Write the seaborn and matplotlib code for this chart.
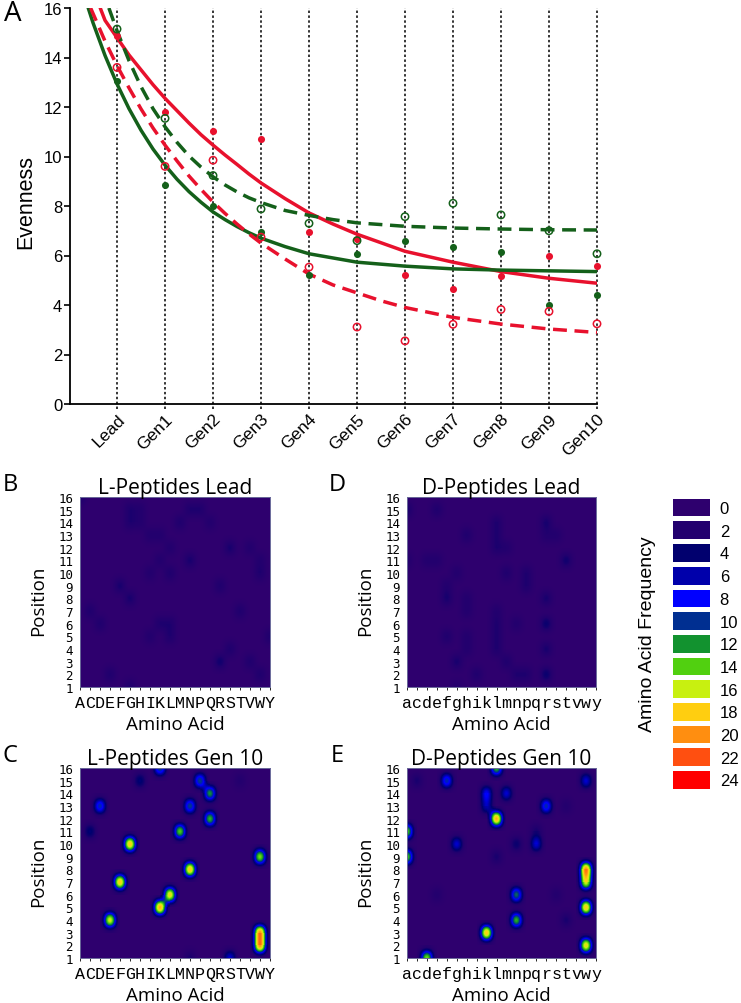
import numpy as np
import pandas as pd
import seaborn as sns
import matplotlib.pyplot as plt
from matplotlib.colors import LinearSegmentedColormap

# panel A - measured points, one value per library
generations = ['Lead', 'Gen1', 'Gen2', 'Gen3', 'Gen4', 'Gen5', 'Gen6', 'Gen7', 'Gen8', 'Gen9', 'Gen10']
red_filled = [14.88, 11.78, 11.03, 10.72, 6.95, 6.68, 5.20, 4.65, 5.19, 5.97, 5.57]
red_open = [13.60, 9.60, 9.85, 6.74, 5.53, 3.11, 2.55, 3.22, 3.82, 3.74, 3.24]
green_filled = [13.05, 8.86, 8.01, 6.95, 5.23, 6.05, 6.59, 6.36, 6.14, 4.00, 4.42]
green_open = [15.15, 11.54, 9.23, 7.88, 7.30, 6.60, 7.57, 8.11, 7.64, 7.00, 6.07]

# panel A - fitted curves
red_solid_x = [-0.35, -0.25, 0, 0.25, 0.5, 0.75, 1, 1.25, 1.5, 1.75, 2, 2.25, 2.5, 2.75, 3, 3.5, 4, 4.5, 5, 6, 7, 8, 9, 10]
red_solid_y = [16.0, 15.5, 14.8, 14.1, 13.5, 12.9, 12.35, 11.85, 11.35, 10.88, 10.46, 10.06, 9.68, 9.29, 8.93, 8.30, 7.72, 7.27, 6.86, 6.17, 5.73, 5.35, 5.08, 4.88]
green_solid_x = [-0.6, -0.5, -0.25, 0, 0.25, 0.5, 0.75, 1, 1.25, 1.5, 1.75, 2, 2.25, 2.5, 2.75, 3, 3.25, 3.5, 4, 4.5, 5, 6, 7, 8, 9, 10]
green_solid_y = [16.0, 15.4, 14.08, 12.93, 11.93, 11.06, 10.3, 9.65, 9.08, 8.58, 8.15, 7.76, 7.45, 7.17, 6.92, 6.70, 6.53, 6.36, 6.07, 5.9, 5.73, 5.57, 5.46, 5.41, 5.38, 5.35]
red_dash_x = [-0.55, -0.25, 0, 0.25, 0.5, 0.75, 1, 1.25, 1.5, 1.75, 2, 2.25, 2.5, 2.75, 3, 3.5, 4, 4.5, 5, 5.5, 6, 7, 8, 9, 10]
red_dash_y = [16.0, 14.66, 13.67, 12.77, 11.92, 11.15, 10.46, 9.82, 9.21, 8.67, 8.16, 7.70, 7.27, 6.87, 6.50, 5.86, 5.25, 4.81, 4.49, 4.17, 3.90, 3.50, 3.23, 3.03, 2.89]
green_dash_x = [-0.17, 0, 0.25, 0.5, 0.75, 1, 1.25, 1.5, 1.75, 2, 2.25, 2.5, 2.75, 3, 3.5, 4, 4.5, 5, 6, 7, 8, 9, 10]
green_dash_y = [16.0, 15.08, 13.87, 12.82, 11.93, 11.2, 10.57, 10.02, 9.57, 9.18, 8.85, 8.57, 8.33, 8.14, 7.82, 7.62, 7.45, 7.32, 7.18, 7.11, 7.07, 7.04, 7.03]

# heatmaps - (column, position, frequency), everything else sits at the background level
l_letters = list('ACDEFGHIKLMNPQRSTVWY')
d_letters = list('acdefghiklmnpqrstvwy')
positions = list(range(1, 17))

l_lead_cells = [(0, 16, 3), (5, 15, 2.5), (6, 15, 2), (5, 14, 2.5), (6, 14, 2), (7, 13, 2), (8, 13, 2), (9, 12, 2),
                (10, 14, 2.5), (11, 15, 2.5), (12, 15, 2.5), (13, 14, 2), (8, 11, 2), (11, 11, 3), (9, 10, 2.5), (7, 10, 2),
                (4, 9, 3), (5, 8, 3), (14, 9, 2.5), (15, 12, 3), (17, 12, 2), (18, 11, 2), (18, 10, 2.5), (16, 7, 2.5),
                (1, 7, 2.5), (2, 6, 2.5), (8, 6, 2.5), (9, 6, 2.5), (7, 5, 2), (9, 5, 2.5), (14, 3, 3.5), (15, 4, 2.5),
                (17, 3, 2.5), (18, 2, 2.5), (19, 5, 2.5), (3, 2, 2.5), (5, 1, 2.5)]
d_lead_cells = [(0, 15, 3), (3, 15, 2.5), (0, 11, 2), (2, 11, 2), (3, 11, 2), (6, 13, 2.5), (9, 14, 2.5), (9, 13, 2.5),
                (9, 12, 2.5), (10, 12, 2), (14, 14, 3), (15, 13, 2), (14, 13, 2), (16, 11, 3.5), (10, 10, 2.5), (12, 10, 2.5),
                (12, 9, 2.5), (5, 10, 2), (4, 8, 3), (4, 9, 2), (6, 8, 2), (6, 7, 2), (14, 8, 3), (14, 6, 4),
                (14, 4, 3), (14, 2, 4), (9, 7, 2), (9, 6, 2.5), (9, 5, 2.5), (9, 4, 2.5), (11, 6, 2), (4, 5, 2.5),
                (6, 5, 2), (6, 4, 2), (5, 3, 3), (7, 2, 2.5), (10, 3, 2.5), (11, 2, 2.5), (12, 2, 2.5), (5, 1, 1.5)]
l_gen10_cells = [(2, 13, 11), (1, 11, 5), (6, 15, 5), (8, 16, 12), (12, 15, 12), (13, 14, 14), (13, 12, 15), (11, 13, 12),
                 (10, 11, 16), (5, 10, 21), (18, 9, 17), (11, 8, 21), (4, 7, 21), (9, 6, 20), (8, 5, 22), (3, 4, 19),
                 (18, 3, 23), (18, 2, 23), (15, 1, 8), (16, 15, 2), (11, 1, 3)]
d_gen10_cells = [(9, 16, 15), (9, 12, 22), (4, 15, 11), (1, 15, 3), (8, 14, 9), (8, 13, 7), (10, 14, 8), (14, 13, 11),
                 (18, 15, 8), (0, 11, 16), (0, 9, 16), (5, 10, 8), (11, 10, 4), (11, 6, 13), (11, 4, 15), (13, 10, 8),
                 (13, 11, 3), (9, 9, 3), (18, 8, 23), (18, 7, 19), (18, 5, 21), (18, 2, 20), (8, 3, 21), (2, 1, 17),
                 (3, 6, 2), (15, 6, 2), (16, 4, 3), (16, 13, 2)]

legend_levels = list(range(0, 25, 2))
legend_colors = ['#2e006e', '#22006e', '#00006e', '#0000aa', '#0000ff', '#003090', '#109030',
                 '#50d010', '#c8f010', '#ffd010', '#ff9010', '#ff5010', '#ff0000']

RED = '#e8112d'
GREEN = '#14601a'
W, H = 741, 1004

sns.set_theme(style='white')
plt.rcParams['font.family'] = ['Liberation Sans', 'DejaVu Sans']
plt.rcParams['axes.edgecolor'] = 'black'
plt.rcParams['text.color'] = 'black'
plt.rcParams['axes.labelcolor'] = 'black'
plt.rcParams['xtick.color'] = 'black'
plt.rcParams['ytick.color'] = 'black'

freq_cmap = LinearSegmentedColormap.from_list('freq', legend_colors, N=256)


def px_axes(fig, left, top, right, bottom):
    return fig.add_axes([left / W, 1 - bottom / H, (right - left) / W, (bottom - top) / H])


def build_grid(cells):
    grid = np.zeros((len(positions), len(l_letters)))
    for col, pos, val in cells:
        grid[pos - 1, col] = val
    return grid


def draw_map(fig, box, cells, letters, title, tag, tag_x):
    ax = px_axes(fig, *box)
    # hamming keeps the cell peak and gives the soft, slightly boxy spots of the original
    ax.imshow(build_grid(cells), cmap=freq_cmap, vmin=0, vmax=24, origin='lower', aspect='auto',
              interpolation='hamming', extent=(-0.5, 19.5, 0.5, 16.5))
    ax.set_xlim(0, 19)
    ax.set_ylim(1, 16)
    ax.set_xticks(range(20))
    ax.set_xticklabels(letters, family='Liberation Mono', fontsize=12)
    ax.set_yticks(positions)
    ax.set_yticklabels(positions, family='DejaVu Sans Mono', fontsize=9)
    ax.tick_params(axis='x', length=2.5, width=0.6, pad=3, bottom=True)
    ax.tick_params(axis='y', length=0, pad=5)
    for s in ax.spines.values():
        s.set_color('#6a6a9a')
        s.set_linewidth(0.7)
    ax.set_xlabel('Amino Acid', family='Open Sans', fontsize=13.5, labelpad=4)
    ax.set_ylabel('Position', family='Open Sans', fontsize=13.5)
    ax.yaxis.set_label_coords(-0.175, 0.458)
    ax.set_title(title, family='Open Sans', fontsize=15, pad=3)
    fig.text(tag_x / W, 1 - (box[1] - 13) / H, tag, family='Open Sans', fontsize=17, va='center')
    return ax


fig = plt.figure(figsize=(W / 100, H / 100), dpi=100)

# panel A
ax = px_axes(fig, 70, 9, 597, 405)
for i in range(len(generations)):
    ax.plot([i, i], [-0.22, 16], color='black', lw=1.1, ls=(0, (1.6, 1.6)), zorder=1, clip_on=False)

sns.lineplot(x=red_solid_x, y=red_solid_y, color=RED, lw=2.5, ax=ax, zorder=3)
sns.lineplot(x=green_solid_x, y=green_solid_y, color=GREEN, lw=2.5, ax=ax, zorder=3)
sns.lineplot(x=red_dash_x, y=red_dash_y, color=RED, lw=2.5, ax=ax, zorder=3, linestyle=(0, (4.0, 2.2)))
sns.lineplot(x=green_dash_x, y=green_dash_y, color=GREEN, lw=2.5, ax=ax, zorder=3, linestyle=(0, (4.0, 2.2)))

idx = np.arange(len(generations))
sns.scatterplot(x=idx, y=green_filled, color=GREEN, s=26, linewidth=0, ax=ax, zorder=4, clip_on=False)
sns.scatterplot(x=idx, y=red_filled, color=RED, s=26, linewidth=0, ax=ax, zorder=4, clip_on=False)
sns.scatterplot(x=idx, y=green_open, facecolors='none', edgecolor=GREEN, s=28, linewidth=1.1, ax=ax, zorder=4, clip_on=False)
sns.scatterplot(x=idx, y=red_open, facecolors='none', edgecolor=RED, s=28, linewidth=1.1, ax=ax, zorder=4, clip_on=False)

ax.set_xlim(-0.98, 10)
ax.set_ylim(0, 16)
ax.set_xticks(idx)
ax.set_xticklabels(generations, rotation=45, ha='right', rotation_mode='anchor', fontsize=12.5)
ax.set_yticks(range(0, 17, 2))
ax.tick_params(axis='y', length=4.5, width=1.2, labelsize=12, pad=1, left=True)
ax.tick_params(axis='x', length=0, pad=5)
sns.despine(ax=ax)
ax.spines['left'].set_linewidth(1.3)
ax.spines['bottom'].set_linewidth(1.3)
ax.set_ylabel('Evenness', fontsize=15.5)
ax.yaxis.set_label_coords(-0.064, 0.513)
fig.text(4 / W, 1 - 14 / H, 'A', family='Open Sans', fontsize=20, va='center')

# panels B-E
draw_map(fig, (80, 498, 270, 688), l_lead_cells, l_letters, 'L-Peptides Lead', 'B', 3)
draw_map(fig, (407, 498, 596, 688), d_lead_cells, d_letters, 'D-Peptides Lead', 'D', 329)
draw_map(fig, (80, 769, 270, 959), l_gen10_cells, l_letters, 'L-Peptides Gen 10', 'C', 3)
draw_map(fig, (407, 769, 596, 959), d_gen10_cells, d_letters, 'D-Peptides Gen 10', 'E', 331)

# frequency key
key = px_axes(fig, 670, 496.7, 712, 791.8)
key_df = pd.DataFrame({'level': legend_levels}, index=legend_levels)
sns.heatmap(key_df, cmap=freq_cmap, vmin=0, vmax=24, cbar=False, linewidths=3.3, linecolor='white',
            xticklabels=False, ax=key)
key.yaxis.tick_right()
key.set_ylabel('')
key.set_yticklabels(legend_levels, rotation=0, fontsize=12)
key.tick_params(axis='y', length=0, pad=5.5)
fig.text(647 / W, 1 - 634 / H, 'Amino Acid Frequency', rotation=90, fontsize=14, ha='center', va='center')

fig.savefig('out.png', dpi=100)
